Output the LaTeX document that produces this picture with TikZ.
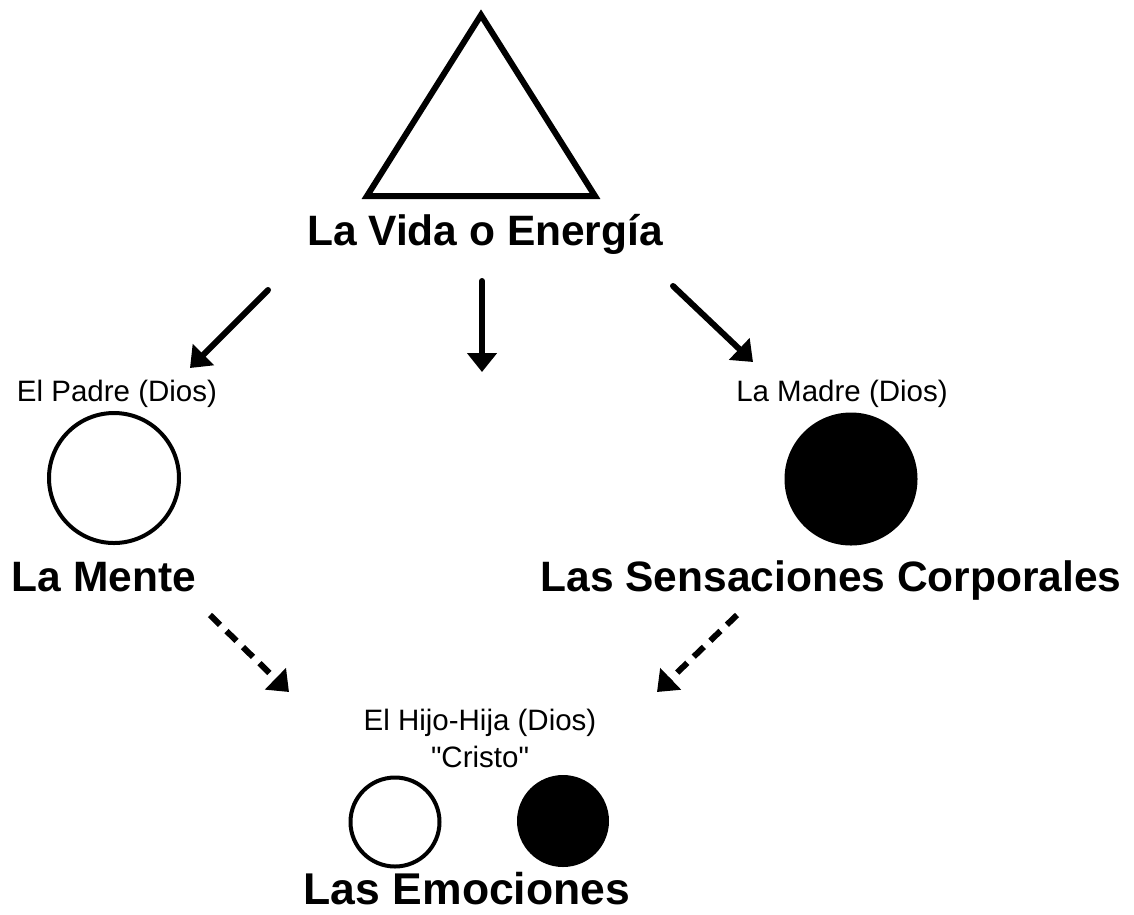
\documentclass[tikz,border=0pt]{standalone}
\usepackage{fontspec}
\setmainfont{Liberation Sans}[Ligatures=TeXOff]
\usetikzlibrary{arrows.meta}
\begin{document}
\begin{tikzpicture}[x=1pt,y=-1pt,
  big/.style={anchor=base, inner sep=0pt, outer sep=0pt, font=\fontsize{42.5}{48}\selectfont\bfseries},
  small/.style={anchor=base, inner sep=0pt, outer sep=0pt, font=\fontsize{29.5}{34}\selectfont},
  opencirc/.style={circle, draw=black, fill=white, line width=4pt, inner sep=0pt},
  fullcirc/.style={circle, fill=black, inner sep=0pt},
  flow/.style={line width=6pt, line cap=round, -{Triangle[width=29pt,length=19pt]}},
  dflow/.style={line width=6pt, line cap=butt, dash pattern=on 14pt off 9pt, -{Triangle[width=29pt,length=19pt]}}]
\fill[white] (0,0) rectangle (1134,914);
\useasboundingbox (0,0) rectangle (1134,914);
% triangle
\coordinate (apex) at (481,15);
\coordinate (bl) at (367,196);
\coordinate (br) at (595,196);
\draw[line width=6pt, line join=miter] (apex) -- (br) -- (bl) -- cycle;
% labels
\node[big] (vida) at (485,245) {La Vida o Energía};
\node[small] (padre) at (117,401) {El Padre (Dios)};
\node[small] (madre) at (842,401) {La Madre (Dios)};
\node[big] (mente) at (104,591) {La Mente};
\node[big] (sens) at (831,591) {Las Sensaciones Corporales};
\node[small] (hijo) at (480,730) {El Hijo-Hija (Dios)};
\node[small] (cristo) at (480,767) {"Cristo"};
\node[big, font=\fontsize{44.5}{50}\selectfont\bfseries] (emoc) at (467,904) {Las Emociones};
% circles
\node[opencirc, minimum size=130pt] (cpadre) at (114,478) {};
\node[fullcirc, minimum width=133pt, minimum height=129pt] (cmadre) at (851,479) {};
\node[opencirc, minimum size=89pt] (chijo1) at (395,822) {};
\node[fullcirc, minimum size=92pt] (chijo2) at (563,821) {};
% arrow ends
\coordinate (a1s) at (268,290); \coordinate (a1e) at (190,368);
\coordinate (a2s) at (482,281); \coordinate (a2e) at (482,372);
\coordinate (a3s) at (673,286); \coordinate (a3e) at (753,362);
\coordinate (d1s) at (210,615); \coordinate (d1e) at (289,692);
\coordinate (d2s) at (737,615); \coordinate (d2e) at (657,692);
\draw[flow] (a1s) -- (a1e);
\draw[flow] (a2s) -- (a2e);
\draw[flow] (a3s) -- (a3e);
\draw[dflow] (d1s) -- (d1e);
\draw[dflow] (d2s) -- (d2e);
\end{tikzpicture}
\end{document}
